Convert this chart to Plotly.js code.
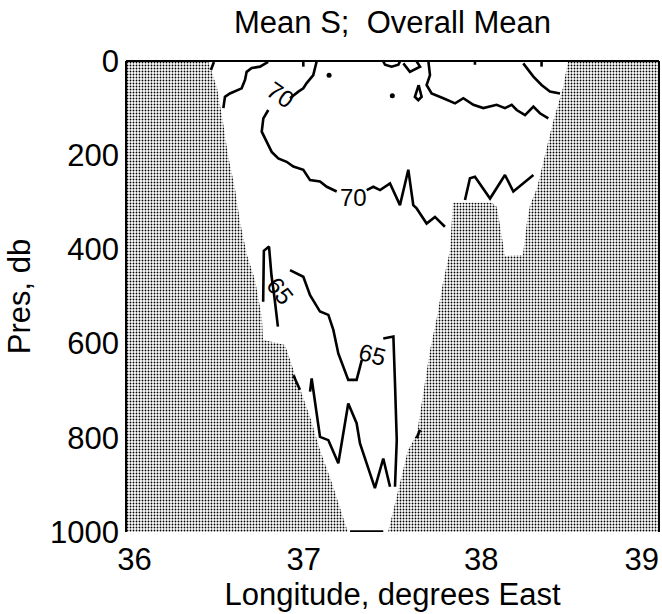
<!DOCTYPE html>
<html>
<head>
<meta charset="utf-8">
<script src="https://cdn.plot.ly/plotly-3.0.1.min.js"></script>
<style>html,body{margin:0;padding:0;background:#fff;}#chart{width:662px;height:614px;}</style>
</head>
<body>
<div id="chart"></div>
<script>
// ---- Tick labels ----
var lonTicks = [36, 37, 38, 39];
var lonTickText = ['\u00a0\u00a036', '37', '38', '39'];
var presTicks = [0, 200, 400, 600, 800, 1000];

// ---- Bathymetry (gray) : west wall ----
var westWallLon  = [36, 36.462, 36.512, 36.546, 36.574, 36.613, 36.642, 36.681, 36.726, 36.765, 36.771, 36.895, 36.968, 37.036, 37.092, 37.159, 37.221, 37.249, 36];
var westWallPres = [0,  0,      57,     130,    200,    270,    342,    412,    465,    544,    592,    603,    684,    756,    826,    896,    968,    1000,   1000];

// ---- Bathymetry (gray) : east wall ----
var eastWallLon  = [39, 38.488, 38.460, 38.403, 38.358, 38.313, 38.274, 38.257, 38.234, 38.133, 38.088, 38.060, 37.840, 37.824, 37.784, 37.750, 37.711, 37.683, 37.655, 37.638, 37.610, 37.587, 37.542, 37.497, 37.475, 39];
var eastWallPres = [0,  0,      57,     130,    200,    270,    306,    342,    412,    414,    310,    301,    301,    401,    471,    544,    614,    684,    756,    790,    811,    826,    896,    968,    1000,   1000];

// ---- Contour S = 70 (segments separated by null) ----
var c70Lon = [
  36.478, 36.495, null,
  37.073, 37.064, 37.054, 37.017, 36.998, 36.970, 36.923, null,
  36.801, 36.773, 36.764, 36.792, 36.820, 36.857, 36.904, 36.942, 36.998, 37.036, 37.092, 37.130, 37.186, null,
  37.355, 37.392, 37.430, 37.486, 37.542, 37.589, 37.617, 37.636, 37.692, 37.739, 37.795, null,
  37.908, 37.936, 37.964, 38.049, 38.133, 38.180, 38.293, null,
  36.548, 36.557, 36.585, 36.651, 36.670, 36.679, 36.708, 36.754, 36.800, null,
  37.702, 37.711, 37.692, 37.720, 37.786, 37.852, 37.899, 37.955, 38.011, 38.086, 38.133, 38.171, 38.199, 38.246, 38.293, 38.330, 38.377, null,
  38.236, 38.293, 38.339, 38.386, 38.443, null,
  37.448, 37.458, 37.495, 37.533, 37.542, null,
  37.561, 37.598, 37.655, 37.636, null,
  37.647, 37.626, 37.645, 37.664, 37.647, null,
  36.998, 36.998, null,
  37.964, 37.964, null,
  38.339, 38.339
];
var c70Pres = [
  19, 2, null,
  1, 16, 30, 47, 58, 65, 79, null,
  104, 122, 150, 171, 193, 207, 214, 224, 231, 253, 256, 267, 277, null,
  274, 267, 274, 260, 306, 231, 306, 313, 345, 331, 352, null,
  295, 249, 246, 292, 242, 277, 242, null,
  100, 76, 69, 58, 40, 23, 15, 12, 2, null,
  1, 30, 51, 69, 79, 90, 79, 93, 100, 93, 100, 93, 104, 115, 97, 111, 122, null,
  5, 33, 51, 65, 69, null,
  1, 8, 12, 8, 1, null,
  5, 23, 12, 1, null,
  51, 76, 83, 76, 51, null,
  2, 12, null,
  2, 8, null,
  2, 12
];

// ---- Contour S = 65 ----
var c65Lon = [
  36.772, 36.776, 36.805, 36.819, 36.835, 36.855, null,
  36.923, 36.998, 37.036, 37.092, 37.139, 37.167, 37.195, 37.251, 37.298, 37.327, null,
  37.448, 37.505, 37.514, 37.524, 37.514, null,
  36.942, 36.979, null,
  37.036, 37.045, 37.092, 37.139, 37.195, 37.251, 37.298, 37.317, 37.401, 37.448, 37.486, null,
  37.636, 37.655, null,
  37.261, 37.448
];
var c65Pres = [
  511, 403, 394, 456, 500, 564, null,
  444, 458, 497, 532, 539, 571, 621, 677, 677, 635, null,
  589, 585, 684, 805, 904, null,
  667, 698, null,
  702, 674, 798, 805, 854, 727, 769, 812, 907, 844, 904, null,
  801, 783, null,
  999, 999
];

// ---- Isolated closed spots (single points) ----
var spotLon  = [37.143, 37.499];
var spotPres = [30, 74];

// ---- Contour labels ----
var labelText  = ['70', '70', '65', '65'];
var labelLon   = [36.867, 37.279, 36.867, 37.387];
var labelPres  = [72, 290, 487, 624];
var labelAngle = [35, 0, 52, 15];

var fontFam = 'Liberation Sans, Arial, Helvetica, sans-serif';
var grayPattern = {shape: '.', fgcolor: '#000000', bgcolor: '#ffffff', size: 3, solidity: 0.3};
var tickFont = {family: fontFam, size: 31, color: '#000'};

var traces = [
  {x: westWallLon, y: westWallPres, type: 'scatter', mode: 'lines', fill: 'toself',
   fillcolor: '#ffffff', fillpattern: grayPattern, line: {width: 0, color: 'rgba(0,0,0,0)'}, hoverinfo: 'skip', showlegend: false},
  {x: eastWallLon, y: eastWallPres, type: 'scatter', mode: 'lines', fill: 'toself',
   fillcolor: '#ffffff', fillpattern: grayPattern, line: {width: 0, color: 'rgba(0,0,0,0)'}, hoverinfo: 'skip', showlegend: false},
  {x: c70Lon, y: c70Pres, type: 'scatter', mode: 'lines', connectgaps: false,
   line: {color: '#000', width: 2.6}, showlegend: false},
  {x: c65Lon, y: c65Pres, type: 'scatter', mode: 'lines', connectgaps: false,
   line: {color: '#000', width: 2.6}, showlegend: false},
  {x: spotLon, y: spotPres, type: 'scatter', mode: 'markers', xaxis: 'x2', yaxis: 'y',
   marker: {color: '#000', size: 5}, showlegend: false}
];

var annotations = labelText.map(function (t, i) {
  return {x: labelLon[i], y: labelPres[i], xref: 'x', yref: 'y', text: t, showarrow: false,
          textangle: labelAngle[i], font: {family: fontFam, size: 24, color: '#000'}};
});

var layout = {
  width: 662, height: 614,
  margin: {l: 126, r: 3, t: 61, b: 82, pad: 0},
  paper_bgcolor: '#fff', plot_bgcolor: '#fff',
  font: {family: fontFam, color: '#000', size: 31},
  title: {text: 'Mean S;  Overall Mean', font: {family: fontFam, size: 31, color: '#000'},
          x: 0.5, xref: 'paper', y: 1 - 22 / 614, yref: 'container', yanchor: 'middle'},
  xaxis: {range: [36, 39], tickvals: lonTicks.slice(0, 3), ticktext: lonTickText.slice(0, 3),
          showgrid: false, zeroline: false, showline: false, ticks: '',
          ticklabelstandoff: 6, tickfont: tickFont,
          title: {text: 'Longitude, degrees East', font: {family: fontFam, size: 31, color: '#000'}, standoff: 4}},
  xaxis2: {range: [36, 39], overlaying: 'x', anchor: 'y', side: 'bottom',
           tickvals: lonTicks.slice(3), ticktext: lonTickText.slice(3),
           ticklabelposition: 'outside left',
           showgrid: false, zeroline: false, showline: false, ticks: '',
           ticklabelstandoff: 6, tickfont: tickFont},
  yaxis: {range: [1000, 0], tickvals: presTicks, ticktext: presTicks.map(String),
          showgrid: false, zeroline: false, showline: false, ticks: '',
          ticklabelstandoff: 6, tickfont: tickFont,
          title: {text: 'Pres, db', font: {family: fontFam, size: 31, color: '#000'}, standoff: 10}},
  shapes: [
    {type: 'line', xref: 'paper', yref: 'paper', x0: 0, x1: 0, y0: 0, y1: 1, line: {color: '#000', width: 2}},
    {type: 'line', xref: 'paper', yref: 'paper', x0: 0, x1: 1, y0: 1, y1: 1, line: {color: '#000', width: 2}},
    {type: 'line', xref: 'paper', yref: 'paper', x0: 1, x1: 1, y0: 0, y1: 1, line: {color: '#000', width: 2}}
  ],
  annotations: annotations
};

Plotly.newPlot('chart', traces, layout, {displayModeBar: false, staticPlot: true});
</script>
</body>
</html>
